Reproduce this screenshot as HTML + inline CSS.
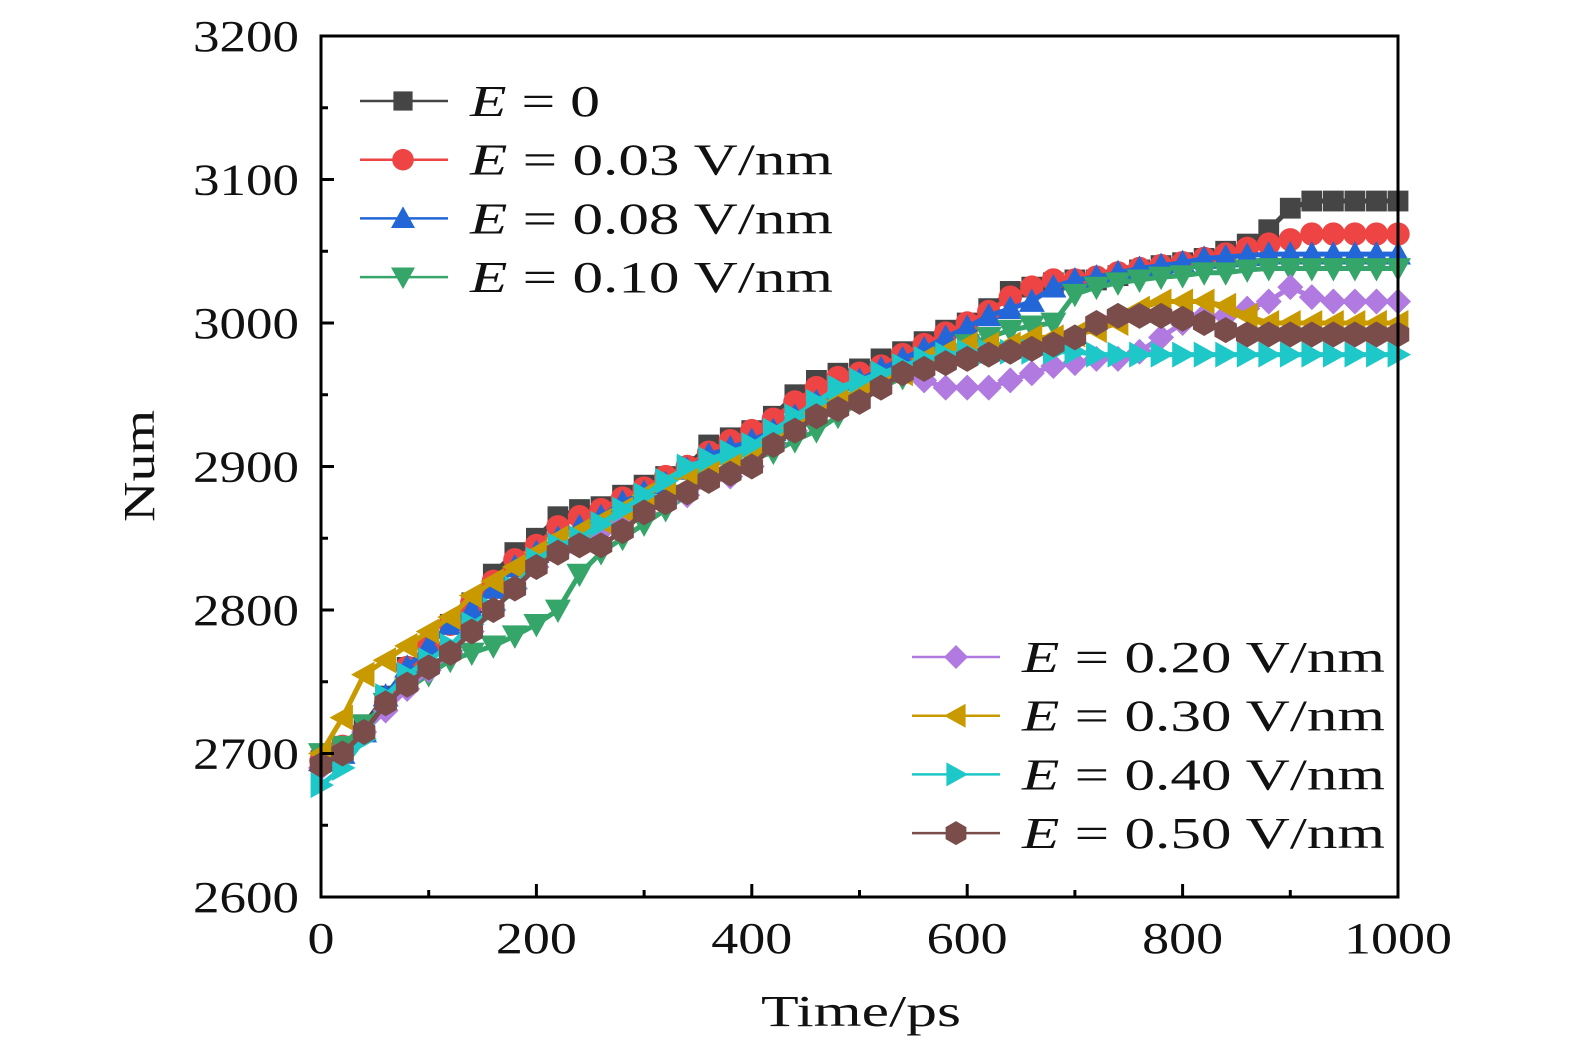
<!DOCTYPE html>
<html><head><meta charset="utf-8"><style>
body{margin:0;background:#fff}
svg text{font-family:"Liberation Serif",serif;fill:#111}
</style></head><body>
<svg id="c" width="1575" height="1053" viewBox="0 0 1575 1053">
<g id="plot"></g>
<g id="axes"></g>
<g id="leg"></g>
</svg>
<script>
const times=[0,20,40,60,80,100,120,140,160,180,200,220,240,260,280,300,320,340,360,380,400,420,440,460,480,500,520,540,560,580,600,620,640,660,680,700,720,740,760,780,800,820,840,860,880,900,920,940,960,980,1000];
const e0=[2695,2705,2720,2740,2760,2775,2790,2805,2825,2840,2850,2865,2870,2872,2880,2887,2893,2900,2915,2920,2925,2935,2950,2960,2965,2968,2975,2980,2987,2995,3000,3010,3022,3025,3028,3030,3030,3033,3037,3040,3042,3045,3050,3055,3065,3080,3085,3085,3085,3085,3085];
const e003=[2695,2705,2715,2735,2760,2775,2790,2805,2820,2835,2845,2858,2865,2870,2878,2885,2893,2900,2910,2918,2925,2933,2945,2955,2962,2965,2970,2978,2985,2993,3000,3008,3018,3025,3030,3030,3032,3035,3038,3040,3042,3045,3048,3052,3055,3058,3062,3062,3062,3062,3062];
const e008=[2695,2700,2715,2740,2760,2775,2790,2800,2815,2830,2840,2850,2858,2865,2875,2882,2888,2898,2908,2913,2918,2925,2935,2945,2952,2960,2968,2975,2982,2990,2997,3005,3010,3015,3025,3030,3032,3035,3038,3040,3042,3045,3046,3047,3048,3048,3048,3048,3048,3048,3048];
const e010=[2700,2705,2720,2735,2745,2755,2765,2770,2775,2782,2790,2800,2825,2840,2850,2860,2870,2880,2890,2900,2905,2910,2918,2925,2935,2945,2955,2962,2968,2975,2985,2990,2995,2998,3000,3020,3025,3028,3030,3032,3033,3035,3035,3037,3038,3038,3038,3038,3038,3038,3038];
const e020=[2690,2700,2715,2730,2745,2758,2770,2785,2800,2815,2830,2840,2848,2855,2862,2868,2875,2880,2890,2893,2900,2915,2925,2935,2945,2950,2960,2965,2960,2955,2955,2955,2960,2965,2970,2972,2975,2975,2980,2990,3000,3005,3005,3010,3015,3025,3018,3015,3015,3015,3015];
const e030=[2700,2725,2755,2765,2775,2785,2795,2810,2820,2830,2840,2850,2855,2862,2870,2880,2888,2895,2900,2905,2910,2920,2930,2940,2945,2955,2960,2965,2975,2980,2985,2985,2985,2990,2990,2992,2995,3000,3010,3015,3015,3015,3012,3005,3000,3000,3000,3000,3000,3000,3000];
const e040=[2678,2690,2710,2740,2755,2765,2775,2790,2800,2815,2835,2845,2850,2860,2870,2880,2890,2900,2905,2910,2915,2925,2935,2945,2955,2960,2965,2970,2975,2978,2980,2980,2980,2980,2980,2980,2978,2978,2978,2978,2978,2978,2978,2978,2978,2978,2978,2978,2978,2978,2978];
const e050=[2692,2700,2715,2735,2748,2760,2770,2785,2800,2815,2830,2840,2845,2845,2855,2868,2875,2882,2890,2895,2900,2915,2925,2935,2940,2945,2955,2965,2968,2972,2975,2978,2980,2982,2985,2990,3000,3005,3005,3005,3003,3000,2995,2992,2992,2992,2992,2992,2992,2992,2992];
const labels=["0","0.03 V/nm","0.08 V/nm","0.10 V/nm","0.20 V/nm","0.30 V/nm","0.40 V/nm","0.50 V/nm"];
const xTicks=[0,200,400,600,800,1000];
const yTicks=[2600,2700,2800,2900,3000,3100,3200];

const X0=321,X1=1398,Y0=897,Y1=36;
const sx=v=>X0+(v-0)/1000*(X1-X0);
const sy=v=>Y0-(v-2600)/600*(Y0-Y1);
const NS="http://www.w3.org/2000/svg";
function mk(tag,at,parent){const e=document.createElementNS(NS,tag);for(const k in at)e.setAttribute(k,at[k]);parent.appendChild(e);return e;}
const series=[[e0,"#454545","square"],[e003,"#ef4444","circle"],[e008,"#2266d8","up"],[e010,"#35a56a","down"],[e020,"#b07ae0","diamond"],[e030,"#c89a00","left"],[e040,"#1ec8c8","right"],[e050,"#7a4c4a","hex"]];
function marker(shape,x,y,r,col,parent){
  let pts;
  if(shape==="square")return mk("rect",{x:x-r*0.8,y:y-r*0.8,width:r*1.6,height:r*1.6,fill:col},parent);
  if(shape==="circle")return mk("circle",{cx:x,cy:y,r:r*0.9,fill:col},parent);
  if(shape==="up")pts=[[0,-r],[r,r*0.8],[-r,r*0.8]];
  if(shape==="down")pts=[[0,r],[r,-r*0.8],[-r,-r*0.8]];
  if(shape==="left")pts=[[-r,0],[r*0.8,-r],[r*0.8,r]];
  if(shape==="right")pts=[[r,0],[-r*0.8,-r],[-r*0.8,r]];
  if(shape==="diamond")pts=[[0,-r],[r,0],[0,r],[-r,0]];
  if(shape==="hex"){pts=[];for(let i=0;i<6;i++){const a=Math.PI/6+i*Math.PI/3;pts.push([r*Math.cos(a),r*Math.sin(a)]);}}
  return mk("polygon",{points:pts.map(p=>(x+p[0])+","+(y+p[1])).join(" "),fill:col},parent);
}
const plot=document.getElementById("plot");
series.forEach((s,i)=>{
  const g=mk("g",{},plot);
  
  
  mk("polyline",{points:s[0].map((v,j)=>sx(times[j])+","+sy(v)).join(" "),fill:"none",stroke:s[1],"stroke-width":5,"stroke-linejoin":"round"},g);
  s[0].forEach((v,j)=>{const m=marker(s[2],sx(times[j]),sy(v),13,s[1],g);
    
    });
});
const ax=document.getElementById("axes");
mk("rect",{x:X0,y:Y1,width:X1-X0,height:Y0-Y1,fill:"none",stroke:"#000","stroke-width":3},ax);
for(let v=0;v<=1000;v+=100){const maj=v%200===0;mk("line",{x1:sx(v),x2:sx(v),y1:Y0,y2:Y0-(maj?13:7),stroke:"#000","stroke-width":3},ax);}
for(let v=2600;v<=3200;v+=50){const maj=v%100===0;mk("line",{x1:X0,x2:X0+(maj?13:7),y1:sy(v),y2:sy(v),stroke:"#000","stroke-width":3},ax);}
xTicks.forEach(v=>{const s=String(v);const t=mk("text",{x:sx(v),y:953,"font-size":44,"text-anchor":"middle",textLength:s.length*27,lengthAdjust:"spacingAndGlyphs"},ax);t.textContent=s;
  
  });
yTicks.forEach(v=>{const t=mk("text",{x:299,y:sy(v)+15,"font-size":44,"text-anchor":"end",textLength:106,lengthAdjust:"spacingAndGlyphs"},ax);t.textContent=v;
  
  });
const xt=mk("text",{x:861,y:1026,"font-size":44,"text-anchor":"middle",textLength:200,lengthAdjust:"spacingAndGlyphs"},ax);xt.textContent="Time/ps";


const yt=mk("text",{x:0,y:0,"font-size":44,"text-anchor":"middle",textLength:112,lengthAdjust:"spacingAndGlyphs",transform:"translate(154,466) rotate(-90)"},ax);yt.textContent="Num";


const leg=document.getElementById("leg");
series.forEach((s,i)=>{
  let lx,cx,tx,y;
  if(i<4){lx=360;cx=403;tx=470;y=101+i*58.7;}else{lx=912;cx=956;tx=1022;y=657+(i-4)*58.7;}
  const g=mk("g",{},leg);
  
  
  mk("line",{x1:lx,x2:lx+88,y1:y,y2:y,stroke:s[1],"stroke-width":2.5},g);
  marker(s[2],cx,y,12,s[1],g);
  const len=i===0?130:363;
  const t=mk("text",{x:tx,y:y+15,"font-size":44,textLength:len,lengthAdjust:"spacingAndGlyphs"},g);
  t.innerHTML='<tspan font-style="italic">E</tspan> = '+labels[i];
});
</script>
</body></html>
